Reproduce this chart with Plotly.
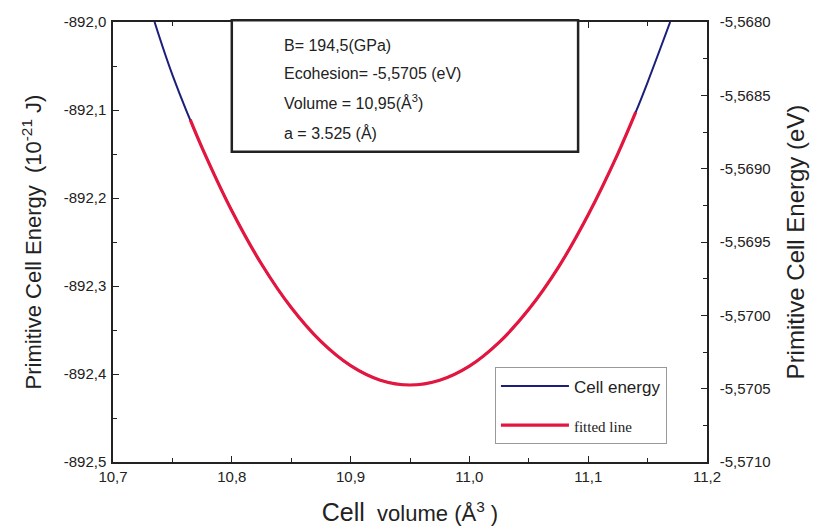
import plotly.graph_objects as go

# Data
cell_volume = [10.735, 10.750, 10.775, 10.800, 10.825, 10.850, 10.875, 10.900, 10.925, 10.950,
               10.975, 11.000, 11.025, 11.050, 11.075, 11.100, 11.125, 11.140, 11.150, 11.169]
cell_energy = [-892.000, -892.060, -892.143, -892.2145, -892.275, -892.3245, -892.363, -892.3905, -892.407, -892.4125,
               -892.407, -892.391, -892.364, -892.3265, -892.2785, -892.219, -892.1495, -892.1025, -892.0685, -892.000]

fit_volume = [10.765, 10.775, 10.800, 10.825, 10.850, 10.875, 10.900, 10.925, 10.950,
              10.975, 11.000, 11.025, 11.050, 11.075, 11.100, 11.125, 11.140]
fit_energy = [-892.111, -892.143, -892.2145, -892.275, -892.3245, -892.363, -892.3905, -892.407, -892.4125,
              -892.407, -892.391, -892.364, -892.3265, -892.2785, -892.219, -892.1495, -892.1025]

x_tick_vals = [10.7, 10.8, 10.9, 11.0, 11.1, 11.2]
x_tick_text = ["10,7", "10,8", "10,9", "11,0", "11,1", "11,2"]
y_tick_vals = [-892.5, -892.4, -892.3, -892.2, -892.1, -892.0]
y_tick_text = ["-892,5", "-892,4", "-892,3", "-892,2", "-892,1", "-892,0"]
y2_tick_vals = [-5.5710, -5.5705, -5.5700, -5.5695, -5.5690, -5.5685, -5.5680]
y2_tick_text = ["-5,5710", "-5,5705", "-5,5700", "-5,5695", "-5,5690", "-5,5685", "-5,5680"]

info_lines = ["B= 194,5(GPa)", "Ecohesion= -5,5705 (eV)",
              "Volume = 10,95(Å<sup>3</sup>)", "a = 3.525 (Å)"]

FONT = "Liberation Sans, Arial, sans-serif"

fig = go.Figure()
fig.add_trace(go.Scatter(x=cell_volume, y=cell_energy, mode="lines", name="Cell energy",
                         legendgroup="a",
                         line=dict(color="#1c1f7a", width=2, shape="spline")))
fig.add_trace(go.Scatter(x=fit_volume, y=fit_energy, mode="lines", legendgroup="b",
                         name="<span style='font-family:Liberation Serif, serif; font-size:15px'>fitted line</span>",
                         line=dict(color="#e3163f", width=3.2, shape="spline")))
# invisible trace for right axis
fig.add_trace(go.Scatter(x=[10.7, 11.2], y=[-5.5710, -5.5680], yaxis="y2", mode="lines",
                         line=dict(width=0), showlegend=False, hoverinfo="skip"))

axis_common = dict(showline=True, linecolor="#222", linewidth=1.5, ticks="inside",
                   tickcolor="#222", ticklen=6, showgrid=False, zeroline=False, automargin=False,
                   tickfont=dict(family=FONT, size=15, color="#222"))

# body margin of the html page is 8px, so the figure is 8px smaller than the window
fig.update_layout(
    width=810, height=520,
    margin=dict(l=105, r=111, t=14, b=66),
    paper_bgcolor="white", plot_bgcolor="white",
    font=dict(family=FONT, color="#222"),
    xaxis=dict(range=[10.7, 11.2], tickvals=x_tick_vals, ticktext=x_tick_text, mirror="ticks",
               minor=dict(ticks="inside", dtick=0.05, tick0=10.7, ticklen=4, tickcolor="#222"),
               title=dict(text="<span style='font-size:25px'>Cell</span>  volume (Å<sup>3</sup> )",
                          font=dict(size=22), standoff=22),
               **axis_common),
    yaxis=dict(range=[-892.5, -892.0], tickvals=y_tick_vals, ticktext=y_tick_text,
               minor=dict(ticks="inside", dtick=0.05, tick0=-892.0, ticklen=4, tickcolor="#222"),
               title=dict(text="Primitive Cell Energy  (10<sup>-21</sup> J)", font=dict(size=22), standoff=16),
               ticklabelstandoff=2,
               **axis_common),
    yaxis2=dict(range=[-5.5710, -5.5680], tickvals=y2_tick_vals, ticktext=y2_tick_text,
                overlaying="y", side="right", ticklabelstandoff=8,
                minor=dict(ticks="inside", dtick=0.00025, tick0=-5.5680, ticklen=4, tickcolor="#222"),
                title=dict(text="Primitive Cell Energy (eV)", font=dict(size=24), standoff=18),
                **axis_common),
    legend=dict(x=0.643, y=0.215, xanchor="left", yanchor="top",
                bordercolor="#999", borderwidth=1, bgcolor="white",
                font=dict(family=FONT, size=17, color="#222"),
                traceorder="grouped", tracegroupgap=14, itemwidth=68),
    showlegend=True,
)

fig.add_shape(type="rect", xref="paper", yref="paper", x0=0.2, x1=0.783, y0=0.705, y1=1.004,
              line=dict(color="#222", width=2.5), fillcolor="white", layer="above")
line_y = [0.946, 0.883, 0.819, 0.748]
for txt, yy in zip(info_lines, line_y):
    fig.add_annotation(text=txt, xref="paper", yref="paper", x=0.285, y=yy,
                       xanchor="left", yanchor="middle", showarrow=False,
                       font=dict(family=FONT, size=16, color="#222"))

fig.write_html("out.html")
